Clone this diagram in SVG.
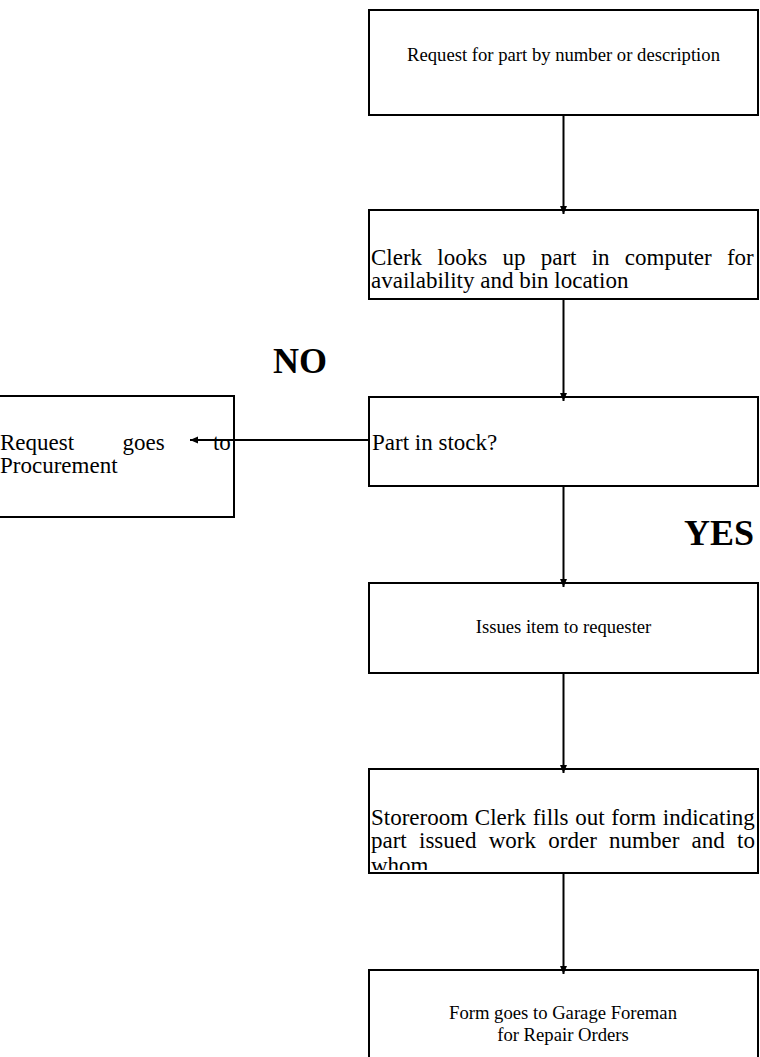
<svg xmlns="http://www.w3.org/2000/svg" width="760" height="1057" viewBox="0 0 760 1057">
<style>
.box{fill:#fff;stroke:#000;stroke-width:2}
.t{font-family:"Liberation Serif","Times New Roman",serif;fill:#000}
.s{font-size:18.67px}
.m{font-size:23px}
.b{font-size:36px;font-weight:bold}
.c{text-anchor:middle}
.ln{stroke:#000;stroke-width:2;fill:none;marker-end:url(#ah)}
</style>
<defs>
<marker id="ah" markerUnits="userSpaceOnUse" markerWidth="9" markerHeight="8" refX="8" refY="3.5" orient="auto">
<path d="M0,0 L8,3.5 L0,7 z" fill="#000"/>
</marker>
<clipPath id="clip5"><rect x="369" y="770" width="389" height="100"/></clipPath>
</defs>
<rect width="760" height="1057" fill="#fff"/>
<g id="n1">
<rect class="box" x="369" y="10" width="389" height="105"/>
<text class="t s c" x="563.5" y="61">Request for part by number or description</text>
</g>
<g id="n2">
<rect class="box" x="369" y="210" width="389" height="89"/>
<text class="t m" x="371" y="265" word-spacing="9.5">Clerk looks up part in computer for</text>
<text class="t m" x="371" y="288">availability and bin location</text>
</g>
<g id="n3">
<rect class="box" x="369" y="397" width="389" height="89"/>
<text class="t m" x="372" y="450">Part in stock?</text>
</g>
<g id="n4">
<rect class="box" x="-5" y="396" width="239" height="121"/>
<text class="t m" x="0" y="450" word-spacing="42.6">Request goes to</text>
<text class="t m" x="0" y="473">Procurement</text>
</g>
<g id="n5">
<rect class="box" x="369" y="583" width="389" height="90"/>
<text class="t s c" x="563.5" y="633">Issues item to requester</text>
</g>
<g id="n6">
<rect class="box" x="369" y="769" width="389" height="104"/>
<g clip-path="url(#clip5)">
<text class="t m" x="371" y="825" word-spacing="1">Storeroom Clerk fills out form indicating</text>
<text class="t m" x="371" y="848" word-spacing="6.5">part issued work order number and to</text>
<text class="t m" x="371" y="873">whom</text>
</g>
</g>
<g id="n7">
<rect class="box" x="369" y="970" width="389" height="95"/>
<text class="t s c" x="563" y="1019">Form goes to Garage Foreman</text>
<text class="t s c" x="563" y="1041">for Repair Orders</text>
</g>
<g id="labels">
<text class="t b" x="273" y="373">NO</text>
<text class="t b" x="684" y="545">YES</text>
</g>
<g id="connectors">
<line class="ln" x1="563.5" y1="115" x2="563.5" y2="214"/>
<line class="ln" x1="563.5" y1="299" x2="563.5" y2="401"/>
<line class="ln" x1="563.5" y1="486" x2="563.5" y2="587"/>
<line class="ln" x1="563.5" y1="673" x2="563.5" y2="773"/>
<line class="ln" x1="563.5" y1="873" x2="563.5" y2="974"/>
<line class="ln" x1="368" y1="440" x2="190" y2="440"/>
</g>
</svg>
